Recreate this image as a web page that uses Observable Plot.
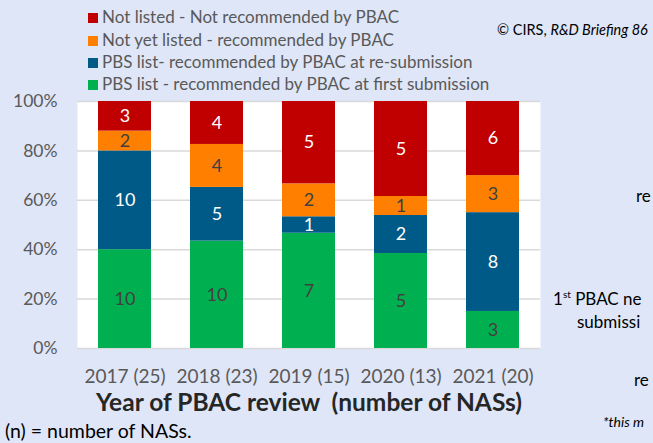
<!DOCTYPE html>
<html>
<head>
<meta charset="utf-8">
<script src="https://cdn.jsdelivr.net/npm/d3@7"></script>
<script src="https://cdn.jsdelivr.net/npm/@observablehq/plot@0.6"></script>
<style>
  html, body { margin: 0; padding: 0; }
  #page { position: relative; width: 653px; height: 443px; overflow: hidden; background: #dfe6f7; font-family: Lato, sans-serif; }
  .abs { position: absolute; white-space: pre; line-height: normal; }
  .leg { position: absolute; left: 88px; font-size: 17px; color: #595959; line-height: 20px; white-space: pre; }
  .leg span.sw { display: inline-block; width: 10px; height: 10px; margin-right: 4px; vertical-align: 0px; }
  #chart { position: absolute; left: 0; top: 90px; line-height: 0; }
</style>
</head>
<body>
<div id="page">
  <div id="legend"></div>
  <div class="abs" style="left:497px; top:21px; font-size:14.5px; color:#000;">© CIRS, <i>R&amp;D Briefing 86</i></div>
  <div id="chart"></div>
  <div class="abs" id="xtitle" style="left:0; width:618px; text-align:center; top:390px; font-size:24.5px; line-height:1; font-weight:bold; color:#262626;">Year of PBAC review  (number of NASs)</div>
  <div class="abs" style="left:5px; top:419px; font-size:19.5px; color:#000;">(n) = number of NASs.</div>
  <div class="abs" style="left:636px; top:185px; font-size:17px; color:#000;">re</div>
  <div class="abs" style="left:553px; top:288px; font-size:17px; color:#000;">1<sup style="font-size:10px">st</sup> PBAC ne</div>
  <div class="abs" style="left:577px; top:311px; font-size:17px; color:#000;">submissi</div>
  <div class="abs" style="left:634px; top:369px; font-size:17px; color:#000;">re</div>
  <div class="abs" style="left:603px; top:413px; font-size:14px; color:#000; font-style:italic;">*this m</div>
</div>
<script>
const years = ["2017 (25)", "2018 (23)", "2019 (15)", "2020 (13)", "2021 (20)"];
const categories = [
  "PBS list - recommended by PBAC at first submission",
  "PBS list- recommended by PBAC at re-submission",
  "Not yet listed - recommended by PBAC",
  "Not listed - Not recommended by PBAC"
];
const firstSubmission = [10, 10, 7, 5, 3];
const reSubmission = [10, 5, 1, 2, 8];
const notYetListed = [2, 4, 2, 1, 3];
const notListed = [3, 4, 5, 5, 6];
const colors = ["#00b050", "#005a87", "#ff8000", "#c00000"];
const yTicks = [0, 0.2, 0.4, 0.6, 0.8, 1];

const series = [firstSubmission, reSubmission, notYetListed, notListed];
const data = [];
years.forEach((yr, i) => {
  categories.forEach((c, j) => data.push({year: yr, category: c, value: series[j][i], k: j}));
});

// Legend (top entry = top of stack)
const legend = document.getElementById("legend");
const legendOrder = [3, 2, 1, 0];
const legendTops = [7, 30, 52, 74];
legendOrder.forEach((j, r) => {
  const d = document.createElement("div");
  d.className = "leg";
  d.style.top = legendTops[r] + "px";
  d.innerHTML = `<span class="sw" style="background:${colors[j]}"></span>${categories[j]}`;
  legend.appendChild(d);
});

const stackOpts = {x: "year", y: "value", z: "category", offset: "normalize"};

const chart = Plot.plot({
  width: 560,
  height: 340,
  marginLeft: 77,
  marginRight: 20,
  marginTop: 11,
  marginBottom: 82,
  style: {background: "transparent", fontFamily: "Lato, sans-serif", color: "#595959", overflow: "visible"},
  x: {domain: years, paddingInner: 0.426, paddingOuter: 0.213, label: null},
  y: {domain: [0, 1], label: null},
  color: {domain: categories, range: colors},
  marks: [
    Plot.frame({fill: "white", stroke: "none"}),
    Plot.ruleY(yTicks, {stroke: "#d9d9d9", strokeWidth: 1.5}),
    Plot.barY(data, {...stackOpts, fill: "category"}),
    Plot.text(data, Plot.stackY({...stackOpts,
      text: d => (d.k === 1 || d.k === 3) ? String(d.value) : "", fill: "white", fontSize: 18})),
    Plot.text(data, Plot.stackY({...stackOpts,
      text: d => (d.k === 0 || d.k === 2) ? String(d.value) : "", fill: "#404040", fontSize: 18})),
    Plot.axisX({tickSize: 0, tickPadding: 21, fontSize: 19, label: null}),
    Plot.axisY({ticks: yTicks, tickFormat: d3.format(".0%"), tickSize: 0, tickPadding: 20, fontSize: 17.5, label: null})
  ]
});
document.getElementById("chart").appendChild(chart);
</script>
</body>
</html>
